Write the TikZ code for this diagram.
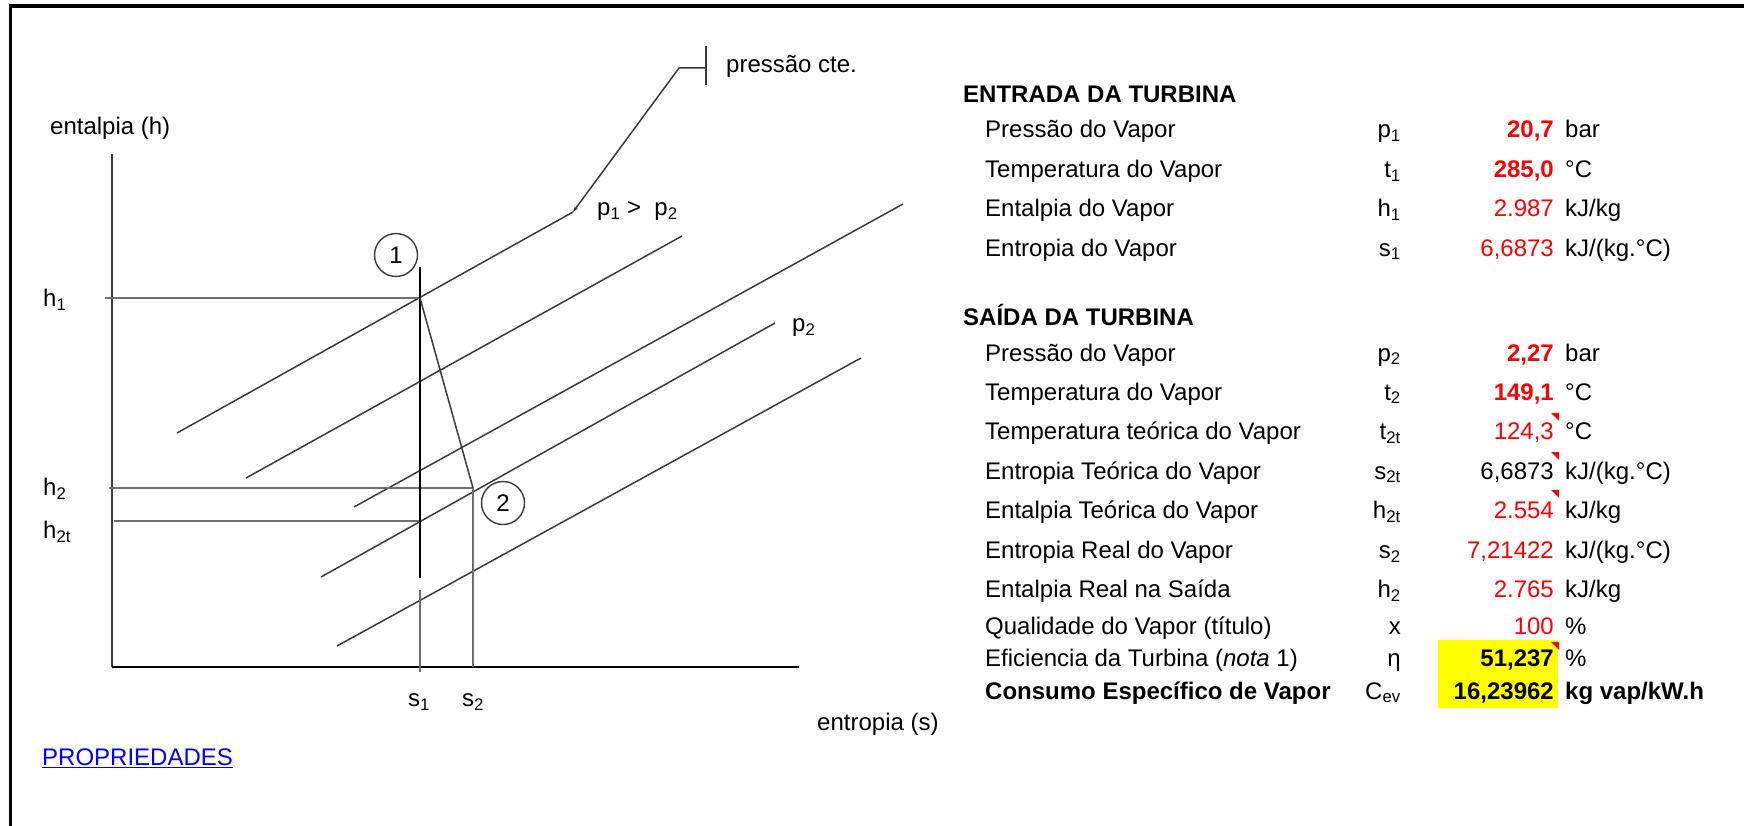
\documentclass[tikz,border=0pt]{standalone}
\usepackage{fontspec}
\setmainfont{Liberation Sans}
\usetikzlibrary{arrows.meta}
\definecolor{ink}{HTML}{3A3A3A}
\definecolor{thin}{HTML}{6E6E6E}
\definecolor{xred}{HTML}{FF0000}
\definecolor{xyellow}{HTML}{FFFF00}
\definecolor{xblue}{HTML}{0000FF}
\newcommand\trow[6]{%
  \node[txt,anchor=base west] (#1l) at (985,#2) {#3};
  \node[txt,anchor=base east] (#1s) at (1401,#2) {#4};
  \node[txt,anchor=base east] (#1v) at (1554,#2) {#5};
  \node[txt,anchor=base west] (#1u) at (1565,#2) {#6};}
\newcommand\redtri[1]{\fill[xred] (1551,#1) -- (1559,#1) -- (1559,#1+8) -- cycle;}
\begin{document}
\begin{tikzpicture}[x=1pt,y=-1pt,
  txt/.style={inner sep=0pt, font=\fontsize{24}{28}\selectfont},
  iso/.style={draw=ink, line width=1.5pt},
  guide/.style={draw=thin, line width=1.2pt},
  axis/.style={draw=ink, line width=1.5pt},
  statecirc/.style={draw=ink, line width=1.4pt, circle, minimum size=43pt, inner sep=0pt, font=\fontsize{24}{28}\selectfont},
  redval/.style={text=xred},
  redbold/.style={text=xred, font=\fontsize{24}{28}\selectfont\bfseries}]
\useasboundingbox (0,0) rectangle (1744,826);
\fill[white] (0,0) rectangle (1744,826);
% frame
\fill[black] (9,4) rectangle (1744,8);
\fill[black] (9,4) rectangle (12.3,826);

% ---------- diagram ----------
\coordinate (ytop) at (112,154);
\coordinate (orig) at (112,667);
\coordinate (xend) at (799,667);
\coordinate (P1) at (420,298);
\coordinate (P2) at (473,488);
\coordinate (P2t) at (420,521);

% isobars
\coordinate (a1) at (177,433); \coordinate (b1) at (573,212);
\coordinate (a2) at (246,478); \coordinate (b2) at (682,236);
\coordinate (a3) at (354,507); \coordinate (b3) at (903,204);
\coordinate (a4) at (321,577); \coordinate (b4) at (775,323);
\coordinate (a5) at (337,646); \coordinate (b5) at (861,358);
\foreach \i in {1,...,5} {\draw[iso] (a\i) -- (b\i);}

% axes
\draw[axis] (ytop) -- (orig);
\draw[draw=black, line width=2.6pt] (orig) -- (xend);

% guide lines
\coordinate (h1l) at (105,298);
\coordinate (h2l) at (109,488);
\coordinate (h2tl) at (114,521);
\draw[guide] (h1l) -- (P1);
\draw[guide] (h2l) -- (P2);
\draw[guide] (h2tl) -- (P2t);
\coordinate (s1top) at (420,267);
\coordinate (s1mid) at (420,578);
\coordinate (s1low) at (420,590);
\coordinate (s1bot) at (420,672);
\coordinate (s2bot) at (473,667);
\draw[black, line width=2.2pt] (s1top) -- (s1mid);
\draw[guide] (s1low) -- (s1bot);
\draw[guide] (P2) -- (s2bot);
\draw[iso] (P1) -- (P2);

% leader
\coordinate (tickt) at (706,46);
\coordinate (tickb) at (706,85);
\coordinate (tickm) at (706,68);
\coordinate (bend) at (679,68);
\draw[iso] (tickt) -- (tickb);
\draw[iso, -{Stealth[length=6pt,width=4pt]}] (tickm) -- (bend) -- (b1);

% state circles
\node[statecirc] (c1) at (396,255) {1};
\node[statecirc] (c2) at (503,503) {2};

% diagram labels
\node[txt,anchor=west] (lent) at (50,128) {entalpia (h)};
\node[txt,anchor=west] (lpc) at (726,66) {pressão cte.};
\node[txt,anchor=west] (lp12) at (597,211) {p\textsubscript{1} >\ \ p\textsubscript{2}};
\node[txt,anchor=west] (lp2) at (792,328) {p\textsubscript{2}};
\node[txt,anchor=west] (lh1) at (43,300) {h\textsubscript{1}};
\node[txt,anchor=west] (lh2) at (43,489) {h\textsubscript{2}};
\node[txt,anchor=west] (lh2t) at (43,532) {h\textsubscript{2t}};
\node[txt] (ls1) at (419,702) {s\textsubscript{1}};
\node[txt] (ls2) at (473,702) {s\textsubscript{2}};
\node[txt,anchor=west] (lentr) at (817,724) {entropia (s)};
\node[txt,anchor=west,text=xblue] (lprop) at (42,758) {\underline{PROPRIEDADES}};

% ---------- table ----------
\fill[xyellow] (1438,640) rectangle (1558,708);
\node[txt,anchor=base west,font=\fontsize{24}{28}\selectfont\bfseries] (hin) at (963,102.3) {ENTRADA DA TURBINA};
\trow{ra}{137.3}{Pressão do Vapor}{p\textsubscript{1}}{\color{xred}\bfseries 20,7}{bar}
\trow{rb}{177.3}{Temperatura do Vapor}{t\textsubscript{1}}{\color{xred}\bfseries 285,0}{°C}
\trow{rc}{216.7}{Entalpia do Vapor}{h\textsubscript{1}}{\color{xred}2.987}{kJ/kg}
\trow{rd}{256}{Entropia do Vapor}{s\textsubscript{1}}{\color{xred}6,6873}{kJ/(kg.°C)}
\node[txt,anchor=base west,font=\fontsize{24}{28}\selectfont\bfseries] (hout) at (963,325.5) {SAÍDA DA TURBINA};
\trow{re}{361}{Pressão do Vapor}{p\textsubscript{2}}{\color{xred}\bfseries 2,27}{bar}
\trow{rf}{400}{Temperatura do Vapor}{t\textsubscript{2}}{\color{xred}\bfseries 149,1}{°C}
\trow{rg}{439.3}{Temperatura teórica do Vapor}{t\textsubscript{2t}}{\color{xred}124,3}{°C}
\trow{rh}{479}{Entropia Teórica do Vapor}{s\textsubscript{2t}}{6,6873}{kJ/(kg.°C)}
\trow{ri}{518.3}{Entalpia Teórica do Vapor}{h\textsubscript{2t}}{\color{xred}2.554}{kJ/kg}
\trow{rj}{558.3}{Entropia Real do Vapor}{s\textsubscript{2}}{\color{xred}7,21422}{kJ/(kg.°C)}
\trow{rk}{597.7}{Entalpia Real na Saída}{h\textsubscript{2}}{\color{xred}2.765}{kJ/kg}
\trow{rl}{634}{Qualidade do Vapor (título)}{x}{\color{xred}100}{\%}
\trow{rm}{666}{Eficiencia da Turbina (\textit{nota} 1)}{η}{\bfseries 51,237}{\%}
\trow{rn}{699}{\bfseries Consumo Específico de Vapor}{C\textsubscript{ev}}{\bfseries 16,23962}{\bfseries kg vap/kW.h}
\redtri{413}
\redtri{452}
\redtri{490}
\redtri{642}
\end{tikzpicture}
\end{document}
